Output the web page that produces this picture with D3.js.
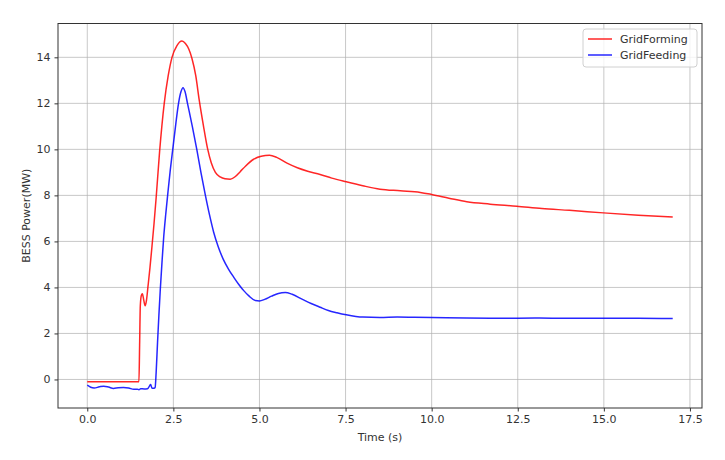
<!DOCTYPE html>
<html><head><meta charset="utf-8">
<script src="https://cdn.jsdelivr.net/npm/d3@7"></script>
<style>body{margin:0;background:#fff}svg{display:block}text{font-family:"DejaVu Sans",sans-serif}</style>
</head><body><svg id="c" width="725" height="460"></svg>
<script>
const seriesNames = ["GridForming", "GridFeeding"];
const seriesColors = ["#ff0000", "#0000ff"];
const xTicks = [0, 2.5, 5, 7.5, 10, 12.5, 15, 17.5];
const yTicks = [0, 2, 4, 6, 8, 10, 12, 14];
const formingT = [0,0.5,1.0,1.50,1.52,1.54,1.57,1.60,1.64,1.68,1.72,1.76,1.82,1.88,1.94,2.00,2.10,2.235,2.35,2.46,2.60,2.75,2.85,2.95,3.04,3.15,3.25,3.37,3.49,3.60,3.72,3.86,4.0,4.15,4.30,4.44,4.60,4.83,5.05,5.29,5.50,5.80,6.10,6.40,6.76,7.1,7.52,8.0,8.5,9.09,9.67,10.0,10.5,11.02,11.7,12.47,13.2,14.0,14.99,16.0,17.0];
const formingV = [-0.1,-0.1,-0.1,-0.1,1.5,3.2,3.65,3.72,3.45,3.2,3.45,4.0,4.85,5.8,6.8,7.9,9.9,12.0,13.2,14.0,14.5,14.71,14.6,14.35,13.95,13.2,12.15,11.05,10.05,9.42,9.0,8.8,8.72,8.70,8.82,9.03,9.28,9.57,9.70,9.74,9.65,9.40,9.20,9.05,8.91,8.75,8.59,8.42,8.27,8.20,8.13,8.04,7.88,7.72,7.62,7.53,7.43,7.35,7.24,7.14,7.06];
const feedingT = [0,0.10,0.20,0.35,0.48,0.62,0.76,0.90,1.05,1.20,1.35,1.45,1.50,1.55,1.65,1.75,1.80,1.84,1.88,1.94,1.97,2.00,2.04,2.08,2.12,2.17,2.22,2.28,2.34,2.41,2.49,2.57,2.65,2.72,2.78,2.84,2.91,3.05,3.18,3.30,3.43,3.55,3.67,3.80,3.95,4.10,4.25,4.40,4.55,4.70,4.88,5.00,5.15,5.35,5.55,5.75,5.95,6.25,6.50,6.76,7.0,7.25,7.52,7.8,8.0,8.5,9.0,9.5,10.0,11.0,12.0,13.0,14.0,15.0,16.0,17.0];
const feedingV = [-0.25,-0.34,-0.37,-0.32,-0.29,-0.33,-0.39,-0.36,-0.35,-0.37,-0.43,-0.42,-0.45,-0.40,-0.41,-0.40,-0.30,-0.22,-0.38,-0.38,-0.35,0.3,1.6,2.8,3.9,5.1,6.2,7.2,8.1,9.1,10.1,11.1,12.0,12.5,12.68,12.5,12.0,11.0,10.0,9.0,8.0,7.15,6.4,5.78,5.22,4.8,4.45,4.13,3.85,3.62,3.43,3.41,3.48,3.62,3.74,3.78,3.70,3.48,3.30,3.14,3.0,2.9,2.81,2.74,2.71,2.69,2.71,2.70,2.69,2.67,2.66,2.67,2.66,2.66,2.66,2.65];

const svg = d3.select("#c");
const L = 58, R = 702, T = 23.5, B = 408;
const x = d3.scaleLinear().domain([-0.85, 17.85]).range([L, R]);
const y = d3.scaleLinear().domain([-1.24, 15.47]).range([B, T]);

// grid
const g = svg.append("g");
g.selectAll(".gx").data(xTicks).join("line")
  .attr("x1", d => x(d)).attr("x2", d => x(d)).attr("y1", T).attr("y2", B)
  .attr("stroke", "#b0b0b0").attr("stroke-opacity", 0.7).attr("stroke-width", 1);
g.selectAll(".gy").data(yTicks).join("line")
  .attr("y1", d => y(d)).attr("y2", d => y(d)).attr("x1", L).attr("x2", R)
  .attr("stroke", "#b0b0b0").attr("stroke-opacity", 0.7).attr("stroke-width", 1);

// axes
const xa = svg.append("g").attr("transform", `translate(0,${B})`)
  .call(d3.axisBottom(x).tickValues(xTicks).tickFormat(d3.format(".1f")).tickSize(3.5).tickPadding(4));
const ya = svg.append("g").attr("transform", `translate(${L},0)`)
  .call(d3.axisLeft(y).tickValues(yTicks).tickFormat(d3.format("d")).tickSize(3.5).tickPadding(4));
[xa, ya].forEach(a => {
  a.select(".domain").remove();
  a.selectAll("line").attr("stroke", "#333");
  a.selectAll("text").attr("font-size", 11).attr("fill", "#333").style("font-family", "DejaVu Sans");
});

// lines
const line = d3.line().x(d => x(d[0])).y(d => y(d[1])).curve(d3.curveMonotoneX);
const data = [d3.zip(formingT, formingV), d3.zip(feedingT, feedingV)];
data.forEach((d, i) => {
  svg.append("path").datum(d).attr("d", line).attr("fill", "none")
    .attr("stroke", seriesColors[i]).attr("stroke-opacity", 0.85).attr("stroke-width", 1.5)
    .attr("stroke-linejoin", "round");
});

// frame
svg.append("rect").attr("x", L).attr("y", T).attr("width", R - L).attr("height", B - T)
  .attr("fill", "none").attr("stroke", "#333").attr("stroke-width", 1);

// labels
svg.append("text").attr("x", (L + R) / 2).attr("y", 441).attr("text-anchor", "middle")
  .attr("font-size", 11).attr("fill", "#333").text("Time (s)");
svg.append("text").attr("transform", `translate(30,${(T + B) / 2}) rotate(-90)`).attr("text-anchor", "middle")
  .attr("font-size", 11).attr("fill", "#333").text("BESS Power(MW)");

// legend
const lg = svg.append("g");
lg.append("rect").attr("x", 583).attr("y", 29).attr("width", 114).attr("height", 38).attr("rx", 3)
  .attr("fill", "#fff").attr("fill-opacity", 0.8).attr("stroke", "#d0d0d0");
seriesNames.forEach((n, i) => {
  const yy = 39 + i * 16;
  lg.append("line").attr("x1", 588).attr("x2", 612).attr("y1", yy).attr("y2", yy)
    .attr("stroke", seriesColors[i]).attr("stroke-opacity", 0.85).attr("stroke-width", 1.5);
  lg.append("text").attr("x", 620).attr("y", yy + 4).attr("font-size", 11).attr("fill", "#333").text(n);
});
</script></body></html>
